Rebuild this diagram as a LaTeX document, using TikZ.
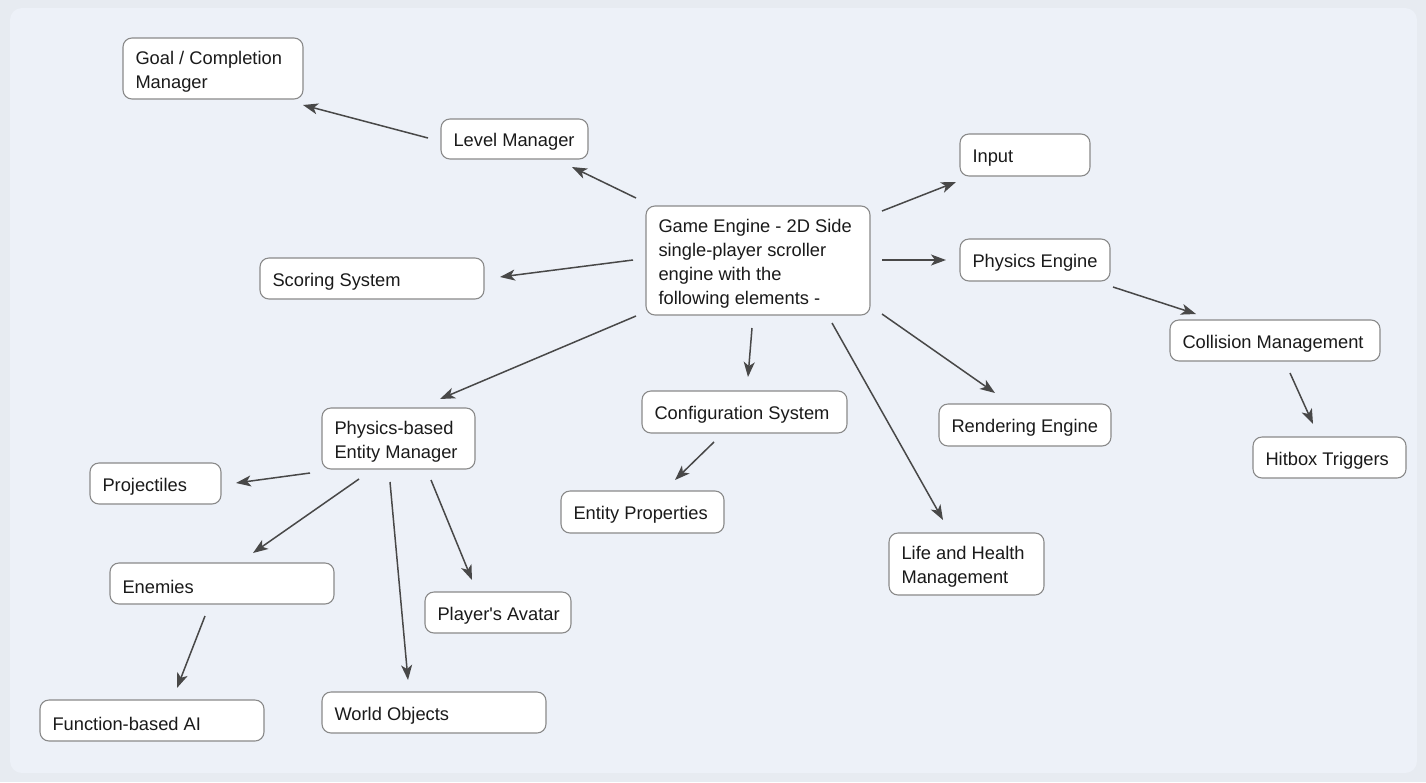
\documentclass[tikz,border=0pt]{standalone}
\usepackage{fontspec}
\setmainfont{Liberation Sans}
\usetikzlibrary{arrows.meta,calc}
\definecolor{outerbg}{HTML}{E7EBF1}
\definecolor{innerbg}{HTML}{EDF1F8}
\definecolor{bordercol}{HTML}{8A8A8A}
\definecolor{arrowcol}{HTML}{484848}
\definecolor{textcol}{HTML}{1A1A1A}
\newcommand{\bxt}[2]{\makebox[#1][l]{\raisebox{-3pt}[\height][\depth]{\vbox{\baselineskip=24pt #2}}}}
\tikzset{
  box/.style={draw=bordercol, line width=1.1pt, fill=white, rounded corners=9pt,
    inner xsep=12.5pt, inner ysep=0pt, text=textcol,
    font=\fontsize{18.3}{24}\selectfont},
  arr/.style={draw=arrowcol, line width=1.5pt,
    -{Stealth[length=15pt,width=11pt,inset=4pt]}}
}
\begin{document}
\begin{tikzpicture}[x=1pt,y=-1pt]
\useasboundingbox (0,0) rectangle (1426,782);
\fill[outerbg] (0,0) rectangle (1426,782);
\fill[innerbg, rounded corners=12pt] (10,8) rectangle (1417,773);

\node[box, minimum height=61pt] (goal) at (213,68.5) {\bxt{155pt}{\hbox{Goal / Completion}\hbox{Manager}}};
\node[box, minimum height=40pt] (lm) at (514.5,139) {\bxt{122pt}{\hbox{Level Manager}}};
\node[box, minimum height=42pt] (input) at (1025,155) {\bxt{105pt}{\hbox{Input}}};
\node[box, minimum height=109pt] (ge) at (758,260.5) {\bxt{199pt}{\hbox{Game Engine - 2D Side}\hbox{single-player scroller}\hbox{engine with the}\hbox{following elements -}}};
\node[box, minimum height=41pt] (score) at (372,278.5) {\bxt{199pt}{\hbox{Scoring System}}};
\node[box, minimum height=42pt] (phys) at (1035,260) {\bxt{125pt}{\hbox{Physics Engine}}};
\node[box, minimum height=41pt] (coll) at (1275,340.5) {\bxt{185pt}{\hbox{Collision Management}}};
\node[box, minimum height=42pt] (config) at (744.5,412) {\bxt{180pt}{\hbox{Configuration System}}};
\node[box, minimum height=42pt] (render) at (1025,425) {\bxt{147pt}{\hbox{Rendering Engine}}};
\node[box, minimum height=41pt] (hitbox) at (1329.5,457.5) {\bxt{128pt}{\hbox{Hitbox Triggers}}};
\node[box, minimum height=61pt] (pem) at (398.5,438.5) {\bxt{128pt}{\hbox{Physics-based}\hbox{Entity Manager}}};
\node[box, minimum height=41pt] (proj) at (155.5,483.5) {\bxt{106pt}{\hbox{Projectiles}}};
\node[box, minimum height=42pt] (eprops) at (642.5,512) {\bxt{138pt}{\hbox{Entity Properties}}};
\node[box, minimum height=62pt] (life) at (966.5,564) {\bxt{130pt}{\hbox{Life and Health}\hbox{Management}}};
\node[box, minimum height=41pt] (enemies) at (222,583.5) {\bxt{199pt}{\hbox{Enemies}}};
\node[box, minimum height=41pt] (avatar) at (498,612.5) {\bxt{121pt}{\hbox{Player\textquotesingle s Avatar}}};
\node[box, minimum height=41pt] (fai) at (152,720.5) {\bxt{199pt}{\hbox{Function-based AI}}};
\node[box, minimum height=41pt] (world) at (434,712.5) {\bxt{199pt}{\hbox{World Objects}}};

\draw[arr] ($(ge)+(-122,-62.5)$) -- ($(lm)+(57.5,28)$);
\draw[arr] ($(lm)+(-86.5,-1)$) -- ($(goal)+(90,36.5)$);
\draw[arr] ($(ge)+(124,-49.5)$) -- ($(input)+(-69,27)$);
\draw[arr] ($(ge)+(124,-0.5)$) -- ($(phys)+(-89,0)$);
\draw[arr] ($(phys)+(78,27)$) -- ($(coll)+(-79,-26.5)$);
\draw[arr] ($(coll)+(15,32.5)$) -- ($(hitbox)+(-16.5,-33.5)$);
\draw[arr] ($(ge)+(-125,-0.5)$) -- ($(score)+(128,-1.5)$);
\draw[arr] ($(ge)+(-122,55.5)$) -- ($(pem)+(41.5,-39.5)$);
\draw[arr] ($(ge)+(-6,67.5)$) -- ($(config)+(3.5,-35)$);
\draw[arr] ($(ge)+(74,62.5)$) -- ($(life)+(-23.5,-44)$);
\draw[arr] ($(ge)+(124,53.5)$) -- ($(render)+(-30,-32)$);
\draw[arr] ($(config)+(-30.5,30)$) -- ($(eprops)+(32.5,-32)$);
\draw[arr] ($(pem)+(-88.5,34.5)$) -- ($(proj)+(80.5,-0.5)$);
\draw[arr] ($(pem)+(-39.5,40.5)$) -- ($(enemies)+(31,-30.5)$);
\draw[arr] ($(pem)+(-8.5,43.5)$) -- ($(world)+(-26,-32.5)$);
\draw[arr] ($(pem)+(32.5,41.5)$) -- ($(avatar)+(-26,-32.5)$);
\draw[arr] ($(enemies)+(-17,32.5)$) -- ($(fai)+(25,-32.5)$);
\end{tikzpicture}
\end{document}
